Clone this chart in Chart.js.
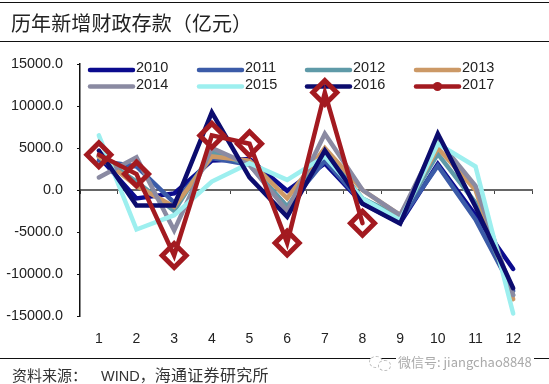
<!DOCTYPE html>
<html><head><meta charset="utf-8">
<script src="https://cdn.jsdelivr.net/npm/chart.js@4/dist/chart.umd.min.js"></script>
<style>
html,body{margin:0;padding:0;background:#fff;overflow:hidden}
#wrap{position:relative;width:549px;height:384px}
canvas{position:absolute;left:0;top:0}
.rule{position:absolute;left:0;width:549px;background:#111}
.t{position:absolute;white-space:nowrap;font-family:"Noto Sans CJK SC",sans-serif}
.ic{position:absolute;border:1px dashed #bbb;border-radius:50%;background:#fff}
</style></head>
<body><div id="wrap">
<canvas id="c" width="549" height="384"></canvas>
<div class="rule" style="top:2px;height:1px"></div>
<div class="rule" style="top:41px;height:1px"></div>
<div class="rule" style="top:358px;height:1px"></div>
<div class="t" style="left:11px;top:9px;font-size:20px;line-height:28px;letter-spacing:.1px;color:#222">历年新增财政存款（亿元）</div>
<div class="t" style="left:12px;top:364px;font-size:15px;line-height:20px;color:#333">资料来源：<span style="display:inline-block;width:14px"></span><span style="font-family:'Liberation Sans';font-size:14.5px">WIND</span>，<span style="font-size:16px;letter-spacing:.3px">海通证券研究所</span></div>
<div class="t" style="left:396px;top:353px;font-size:13px;line-height:18px;color:#aaa;background:#fff;padding:0 2px">微信号: jiangchao8848</div>
<div class="ic" style="left:369px;top:356px;width:12px;height:10px"></div>
<div class="ic" style="left:378px;top:360px;width:11px;height:9px"></div>
</div>
<script>
const months = ["1","2","3","4","5","6","7","8","9","10","11","12"];
const yTicks = [-15000,-10000,-5000,0,5000,10000,15000];
const y2010 = [4000,-1000,-400,3500,3700,-100,3150,-1600,-3900,3100,-3000,-9400];
const y2011 = [3500,2800,-1500,3800,3000,-2000,3500,-1500,-3600,2900,-3500,-12000];
const y2012 = [4000,1000,-2500,4500,3000,-2000,4500,-1000,-3200,4300,-1500,-12500];
const y2013 = [4000,500,-2000,4000,3500,-1000,5000,0,-3000,5000,0,-13000];
const y2014 = [1500,3900,-4800,5000,3000,-2500,6700,0,-3000,6000,500,-12500];
const y2015 = [6500,-4700,-3000,1000,3200,1200,4000,-1000,-3600,5500,2800,-14700];
const y2016 = [4700,-1850,-1850,9250,1500,-3200,4700,-1650,-4000,6700,-2000,-11700];
const y2017 = [4200,1900,-7800,6500,5500,-6300,11600,-3950];
const seriesNames = ["2010","2011","2012","2013","2014","2015","2016","2017"];
const seriesValues = [y2010,y2011,y2012,y2013,y2014,y2015,y2016,y2017];
const seriesColors = ["#0b0b8e","#3b5ba8","#5f9aa8","#cc9966","#8a8aa2","#9defef","#0c0c6e","#a31a20"];

const datasets = seriesNames.map((n,i)=>({
  label:n, data:seriesValues[i], borderColor:seriesColors[i], backgroundColor:seriesColors[i],
  borderWidth:4.5, tension:0, fill:false, order:seriesNames.length-i,
  borderCapStyle:'round', borderJoinStyle:'miter',
  pointRadius: n==="2017"?12:0,
  pointStyle:'rectRot', pointBorderWidth:5, pointBorderColor:seriesColors[i],
  pointBackgroundColor:'rgba(0,0,0,0)', xAxisID:'x', yAxisID:'y', clip:false
}));

const legendPlugin = {
  id:'gridLegend',
  beforeDatasetsDraw(chart){
    const ctx=chart.ctx, cols=[89,198,306,415], rows=[70,86.5];
    ctx.save();
    ctx.font='14.5px "Liberation Sans"';
    ctx.textBaseline='middle';
    chart.data.datasets.forEach((d,i)=>{
      const x=cols[i%4], y=rows[Math.floor(i/4)];
      ctx.strokeStyle=d.borderColor; ctx.lineWidth=4.5; ctx.lineCap='round';
      ctx.beginPath(); ctx.moveTo(x+1,y); ctx.lineTo(x+44,y); ctx.stroke();
      if(d.label==="2017"){ctx.fillStyle=d.borderColor;ctx.beginPath();ctx.arc(x+22.5,y,4.5,0,Math.PI*2);ctx.fill();}
      ctx.fillStyle='#222';
      ctx.fillText(d.label,x+47,y-2);
    });
    ctx.restore();
  }
};

new Chart(document.getElementById('c'),{
  type:'line',
  data:{labels:months,datasets},
  plugins:[legendPlugin],
  options:{
    responsive:false, animation:false,
    layout:{padding:{left:0,right:15,top:64,bottom:0}},
    plugins:{legend:{display:false},tooltip:{enabled:false},title:{display:false}},
    scales:{
      x:{type:'category',position:'bottom',offset:true,
        grid:{display:false},border:{display:false},
        afterFit(s){s.height=68;},
        ticks:{color:'#222',font:{family:'Liberation Sans',size:14},padding:7,maxRotation:0,autoSkip:false}},
      x2:{type:'category',labels:months,position:{y:0},offset:true,
        grid:{display:true,drawOnChartArea:false,drawTicks:true,tickLength:3,color:'#444',offset:true},
        border:{display:true,color:'#666',width:2},
        ticks:{display:false}},
      y:{type:'linear',min:-15000,max:15000,position:'left',
        afterFit(s){s.width=80;},
        afterBuildTicks(s){s.ticks=yTicks.map(v=>({value:v}));},
        grid:{display:true,drawOnChartArea:false,tickLength:3,color:'#111'},
        border:{display:true,color:'#111',width:1.5},
        ticks:{color:'#222',font:{family:'Liberation Sans',size:14.4},padding:14,
          callback:v=>v.toFixed(1)}}
    }
  }
});
</script></body></html>
